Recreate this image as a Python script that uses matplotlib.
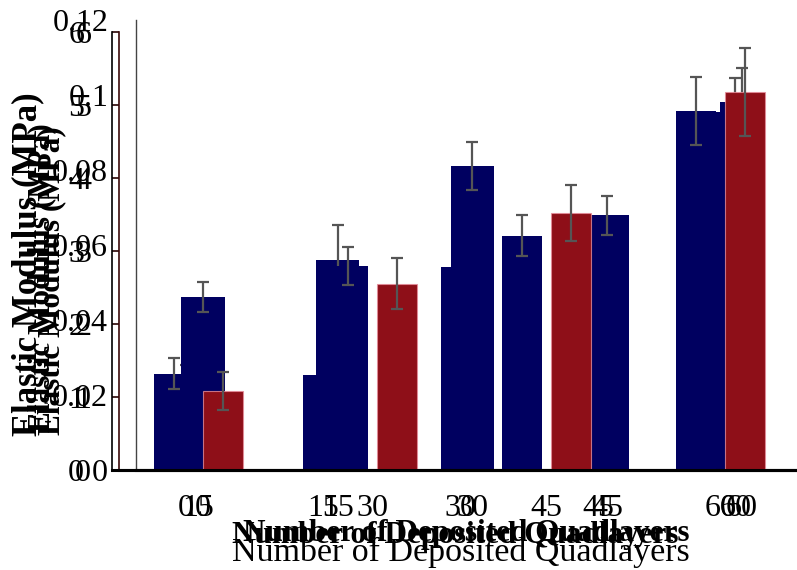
import matplotlib
matplotlib.use("Agg")
import matplotlib.pyplot as plt
import numpy as np

plt.rcParams['font.family'] = ['Liberation Serif', 'DejaVu Serif']

# ---------------- data ----------------
# set A (top layer): grouped navy / red bars
groups_a = ['15', '30', '45', '60']
navy_a = [1.32, 2.79, 3.21, 4.92]
navy_a_err = [0.21, 0.26, 0.28, 0.47]
red_a = [1.08, 2.55, 3.52, 5.18]
red_a_err = [0.26, 0.35, 0.38, 0.60]

# set B (middle layer): navy bars
cats_b = ['0', '15', '30', '45', '60']
navy_b = [2.37, 2.88, 4.16, 3.49, 5.04]
navy_b_err = [0.21, 0.48, 0.33, 0.27, 0.47]

# set C (bottom layer, 0-0.12 scale): navy bars
cats_c = ['0', '15', '30', '45', '60']
navy_c = [0.024, 0.0253, 0.0541, 0.062, 0.0955]
navy_c_err = [0.004, 0.004, 0.005, 0.005, 0.0091]

yticks_small = [0, 0.02, 0.04, 0.06, 0.08, 0.1, 0.12]
yticklabels_small = ['0', '0.02', '0.04', '0.06', '0.08', '0.1', '0.12']
yticks_big = [0, 1, 2, 3, 4, 5, 6]
yticklabels_big = ['0', '1', '2', '3', '4', '5', '6']

xlabel = 'Number of Deposited Quadlayers'
ylabel = 'Elastic Modulus (MPa)'

NAVY = '#000060'
RED = '#8e0f18'
ERR = '#555555'

W, H = 797, 570
fig = plt.figure(figsize=(W / 100, H / 100), dpi=100)


def box(left, top, right, bottom):
    return [left / W, 1 - bottom / H, (right - left) / W, (bottom - top) / H]


def style(ax, spine_color, lw):
    ax.set_facecolor('none')
    for s in ['top', 'right']:
        ax.spines[s].set_visible(False)
    ax.spines['left'].set_color(spine_color)
    ax.spines['left'].set_linewidth(lw)
    ax.spines['bottom'].set_color('black')
    ax.spines['bottom'].set_linewidth(2.2)


ekw = dict(ecolor=ERR, elinewidth=1.6, capsize=4.5, capthick=1.6)
TICKSIZE = 23

# ---- bottom layer (0-0.12) ----
axC = fig.add_axes(box(136, 20, 797, 470))
style(axC, '#444444', 1.0)
xc = np.arange(len(cats_c))
axC.bar(xc, navy_c, width=0.29, color=NAVY, yerr=navy_c_err, error_kw=ekw)
axC.set_xlim(-0.364, 4.45)
axC.set_ylim(0, 0.12)
axC.set_yticks(yticks_small)
axC.set_yticklabels(yticklabels_small)
axC.set_xticks(xc)
axC.set_xticklabels(cats_c)
axC.tick_params(axis='both', length=0, labelsize=TICKSIZE)
axC.tick_params(axis='y', pad=20)
axC.tick_params(axis='x', pad=17)
axC.set_xlabel(xlabel, fontsize=24.5)
axC.set_ylabel(ylabel, fontsize=25, fontweight='bold')

# ---- middle layer (0-6) ----
axB = fig.add_axes(box(119, 32, 797, 470))
style(axB, '#3a0808', 1.2)
xb = np.arange(len(cats_b))
axB.bar(xb, navy_b, width=0.32, color=NAVY, yerr=navy_b_err, error_kw=ekw)
axB.set_xlim(-0.624, 4.41)
axB.set_ylim(0, 6)
axB.set_yticks(yticks_big)
axB.set_yticklabels(yticklabels_big)
axB.set_xticks(xb)
axB.set_xticklabels(cats_b)
axB.tick_params(axis='y', length=5, width=1.2, color='#2a0505', labelsize=TICKSIZE, pad=15)
axB.tick_params(axis='x', length=0, labelsize=TICKSIZE, pad=17)
axB.set_xlabel(xlabel, fontsize=22.5, fontweight='bold')
axB.set_ylabel(ylabel, fontsize=22.5, fontweight='bold')

# ---- top layer (0-6), grouped ----
axA = fig.add_axes(box(112, 32, 797, 470))
style(axA, 'black', 1.2)
xa = np.arange(len(groups_a))
off = 0.141
axA.bar(xa - off, navy_a, width=0.23, color=NAVY, yerr=navy_a_err, error_kw=ekw)
axA.bar(xa + off, red_a, width=0.23, color=RED, edgecolor=(0.9, 0.55, 0.6, 0.8),
        linewidth=0.8, yerr=red_a_err, error_kw=ekw)
axA.set_xlim(-0.497, 3.44)
axA.set_ylim(0, 6)
axA.set_yticks(yticks_big)
axA.set_yticklabels(yticklabels_big)
axA.set_xticks(xa)
axA.set_xticklabels(groups_a)
axA.tick_params(axis='both', length=0, labelsize=TICKSIZE)
axA.tick_params(axis='y', pad=20)
axA.tick_params(axis='x', pad=17)
axA.set_xlabel(xlabel, fontsize=22.5, fontweight='bold')
axA.set_ylabel(ylabel, fontsize=22.5, fontweight='bold')

# label placement (figure pixel coordinates, top-left origin)
def place(axis, x, y):
    axis.set_label_coords(x / W, 1 - y / H, transform=fig.transFigure)
    axis.label.set_va('center')
    axis.label.set_ha('center')

place(axA.xaxis, 455, 535)
place(axB.xaxis, 466, 533)
place(axC.xaxis, 461, 552)
place(axA.yaxis, 42, 278)
place(axB.yaxis, 52, 281)
place(axC.yaxis, 28, 264)

fig.savefig('out.png', dpi=100)
